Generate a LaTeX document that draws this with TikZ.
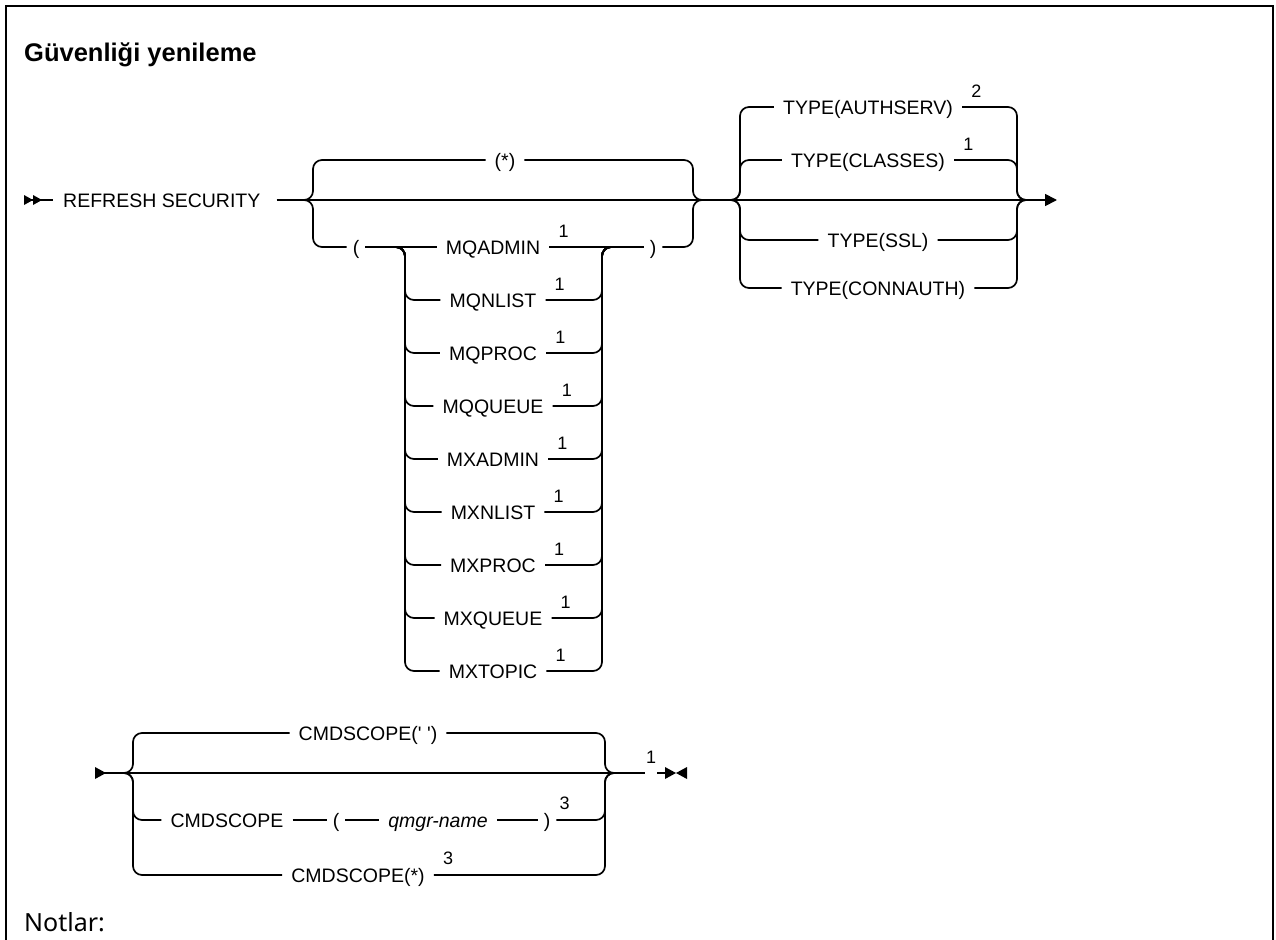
\documentclass[tikz,border=0pt]{standalone}
\usepackage{fontspec}
\setmainfont{Liberation Sans}
\newfontfamily\notofont{Noto Sans}
\usepackage{tikz}
\usetikzlibrary{arrows.meta,calc}

\newcommand{\kwfont}{\fontsize{19.5}{22}\selectfont}
\newcommand{\supfont}{\fontsize{18}{20}\selectfont}

\begin{document}
\begin{tikzpicture}[x=1pt,y=-1pt,
    rail/.style={line width=1.7pt,rounded corners=9pt},
    kw/.style={font=\kwfont,inner xsep=9pt,inner ysep=0pt,text height=14pt,text depth=0pt},
    paren/.style={kw,inner xsep=6pt},
    sup/.style={font=\supfont,inner sep=0pt,anchor=south west}]
  \useasboundingbox (0,0) rectangle (1276,939);
  \clip (0,0) rectangle (1276,939);
  \draw[line width=2.6pt] (6,960) -- (6,6) -- (1273,6) -- (1273,960);
  \node[font=\bfseries\fontsize{25.5}{30}\selectfont,anchor=base west,inner sep=0pt] (title) at (24,62) {Güvenliği yenileme};

  % first line
  \fill (24,195) -- (33,200) -- (24,205) -- cycle;
  \fill (33,195) -- (42,200) -- (33,205) -- cycle;
  \coordinate (start) at (24,200);
  \node[kw,anchor=west,inner xsep=0pt] (refsec) at (63,200) {REFRESH SECURITY};
  \draw[line width=1.7pt] (start) -- ($(refsec.west)+(-10,0)$);
  \draw[line width=1.7pt,-{Triangle[length=12pt,width=12pt]}] ($(refsec.east)+(16,0)$) -- (1057,200);

  % object group
  \coordinate (aL) at (300,200); \coordinate (aLx) at (313,0);
  \coordinate (aR) at (706,200); \coordinate (aRx) at (693,0);
  \node[kw] (all) at (505,160) {(*)};
  \node[paren] (lpar) at (356,247) {(};
  \node[paren] (rpar) at (653,247) {)};
  \draw[rail] (aL) -| (aLx |- all.west) -- (all.west);
  \draw[rail] (all.east) -| (aRx |- aR) -- (aR);
  \draw[rail] (aL) -| (aLx |- lpar.west) -- (lpar.west);
  \draw[rail] (rpar.east) -| (aRx |- aR) -- (aR);

  \coordinate (iLx) at (405,0); \coordinate (iRx) at (602,0);
  \foreach \name [count=\i from 0] in {MQADMIN,MQNLIST,MQPROC,MQQUEUE,MXADMIN,MXNLIST,MXPROC,MXQUEUE,MXTOPIC}{
    \node[kw] (obj\i) at (493,247+53*\i) {\name};
    \node[sup] at ($(obj\i.east)+(9,-9)$) {1};
  }
  \draw[rail] (lpar) -- (obj0);
  \draw[rail] (obj0) -- (rpar);
  \foreach \i in {1,...,8}{
    \draw[rail] (lpar.east) -| (iLx |- obj\i.west) -- (obj\i.west);
    \draw[rail] (obj\i.east) -| (iRx |- rpar.west) -- (rpar.west);
  }

  % type group
  \coordinate (bL) at (728,200); \coordinate (bLx) at (740,0);
  \coordinate (bR) at (1029,200); \coordinate (bRx) at (1017,0);
  \node[kw] (tauth) at (868,107) {TYPE(AUTHSERV)};
  \node[sup] at ($(tauth.east)+(9,-9)$) {2};
  \node[kw] (tclass) at (868,160) {TYPE(CLASSES)};
  \node[sup] at ($(tclass.east)+(9,-9)$) {1};
  \node[kw] (tssl) at (878,240) {TYPE(SSL)};
  \node[kw] (tconn) at (878,288) {TYPE(CONNAUTH)};
  \foreach \t in {tauth,tclass,tssl,tconn}{
    \draw[rail] (bL) -| (bLx |- \t.west) -- (\t.west);
    \draw[rail] (\t.east) -| (bRx |- bR) -- (bR);
  }

  % second line
  \fill (95,767) -- (106,773) -- (95,779) -- cycle;
  \coordinate (cstart) at (95,773);
  \coordinate (cL) at (121,773); \coordinate (cLx) at (133,0);
  \coordinate (cR) at (617,773); \coordinate (cRx) at (605,0);
  \coordinate (endA) at (645,773); \coordinate (endB) at (657,773);
  \coordinate (endC) at (665,773);
  \draw[line width=1.7pt] (cstart) -- (endA);
  \node[sup,anchor=south] (fnend) at (651,764) {1};
  \draw[line width=1.7pt] (endB) -- (endC);
  \fill (665,767) -- (676,773) -- (665,779) -- cycle;
  \fill (687,767) -- (676,773) -- (687,779) -- cycle;

  \node[kw] (cblank) at (368,733) {CMDSCOPE(\textquotesingle{} \textquotesingle)};
  \node[kw] (cname) at (227,820) {CMDSCOPE};
  \node[paren] (clpar) at (336,820) {(};
  \node[kw,font=\kwfont\itshape] (qmgr) at (438,820) {qmgr-name};
  \node[paren] (crpar) at (547,820) {)};
  \node[sup] at ($(crpar.east)+(3,-10)$) {3};
  \node[kw] (call) at (358,875) {CMDSCOPE(*)};
  \node[sup] at ($(call.east)+(9,-10)$) {3};
  \foreach \c in {cblank,cname,call}{
    \draw[rail] (cL) -| (cLx |- \c.west) -- (\c.west);
  }
  \foreach \c in {cblank,crpar,call}{
    \draw[rail] (\c.east) -| (cRx |- cR) -- (cR);
  }
  \draw[rail] (cname) -- (clpar);
  \draw[rail] (clpar) -- (qmgr);
  \draw[rail] (qmgr) -- (crpar);

  \node[font=\notofont\fontsize{25}{30}\selectfont,anchor=base west,inner sep=0pt] (notes) at (24,931) {Notlar:};
\end{tikzpicture}
\end{document}
